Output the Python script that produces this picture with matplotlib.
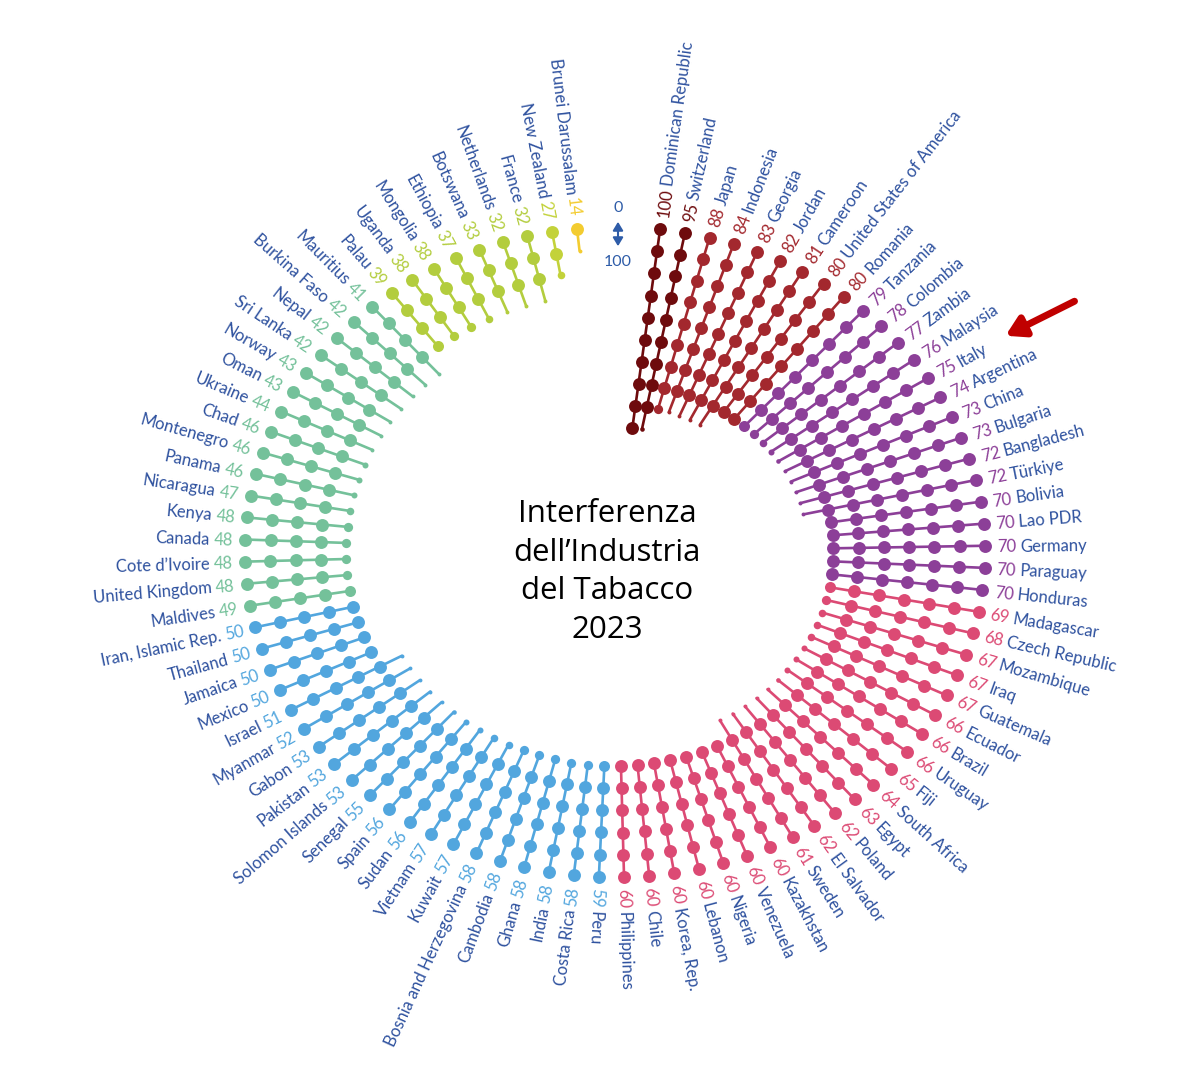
import numpy as np
import matplotlib.pyplot as plt
from matplotlib.textpath import TextPath
from matplotlib.font_manager import FontProperties

# Paesi in senso orario, a partire dall'alto
countries = [
    "Dominican Republic", "Switzerland", "Japan", "Indonesia", "Georgia", "Jordan",
    "Cameroon", "United States of America", "Romania", "Tanzania", "Colombia", "Zambia",
    "Malaysia", "Italy", "Argentina", "China", "Bulgaria", "Bangladesh", "Türkiye",
    "Bolivia", "Lao PDR", "Germany", "Paraguay", "Honduras", "Madagascar",
    "Czech Republic", "Mozambique", "Iraq", "Guatemala", "Ecuador", "Brazil", "Uruguay",
    "Fiji", "South Africa", "Egypt", "Poland", "El Salvador", "Sweden", "Kazakhstan",
    "Venezuela", "Nigeria", "Lebanon", "Korea, Rep.", "Chile", "Philippines", "Peru",
    "Costa Rica", "India", "Ghana", "Cambodia", "Bosnia and Herzegovina", "Kuwait",
    "Vietnam", "Sudan", "Spain", "Senegal", "Solomon Islands", "Pakistan", "Gabon",
    "Myanmar", "Israel", "Mexico", "Jamaica", "Thailand", "Iran, Islamic Rep.",
    "Maldives", "United Kingdom", "Cote d\u2019Ivoire", "Canada", "Kenya", "Nicaragua",
    "Panama", "Montenegro", "Chad", "Ukraine", "Oman", "Norway", "Sri Lanka", "Nepal",
    "Burkina Faso", "Mauritius", "Palau", "Uganda", "Mongolia", "Ethiopia", "Botswana",
    "Netherlands", "France", "New Zealand", "Brunei Darussalam",
]
scores = [
    100, 95, 88, 84, 83, 82, 81, 80, 80, 79, 78, 77, 76, 75, 74, 73, 73, 72, 72,
    70, 70, 70, 70, 70, 69, 68, 67, 67, 67, 66, 66, 66, 65, 64, 63, 62, 62, 61, 60,
    60, 60, 60, 60, 60, 60, 59, 58, 58, 58, 58, 58, 57, 57, 56, 56, 55, 53, 53, 53,
    52, 51, 50, 50, 50, 50, 49, 48, 48, 48, 48, 47, 46, 46, 46, 44, 43, 43, 42, 42,
    42, 41, 39, 38, 38, 37, 33, 32, 32, 27, 14,
]

# fasce di punteggio e colori
band_floor = [90, 80, 70, 60, 50, 40, 30, 20, 0]
band_color = ["#6e0b0d", "#a3282e", "#8c3f98", "#dc4a74", "#52a6de",
              "#74c19a", "#b3cd3e", "#c3d23a", "#f3cc30"]

name_color = "#2f529f"
label_font = "Lato"
label_size = 12

# geometria (pixel): ellisse leggermente schiacciata
cx, cy, rx, ry = 615, 552, 370, 325
theta0, dtheta = 7.0, 3.9
slot_step = 0.0683
dot_d = 9.3  # diametro in punti


def band_of(s):
    for f, c in zip(band_floor, band_color):
        if s >= f:
            return c
    return band_color[-1]


fp = FontProperties(family=label_font, size=label_size)


def text_width_px(s):
    return TextPath((0, 0), s, prop=fp).get_extents().width * 100 / 72


fig = plt.figure(figsize=(12, 10.89), dpi=100)
ax = fig.add_axes([0, 0, 1, 1])
ax.set_xlim(0, 1200)
ax.set_ylim(1089, 0)
ax.axis("off")

for i, (name, s) in enumerate(zip(countries, scores)):
    th = np.radians(theta0 + i * dtheta)
    col = band_of(s)
    n_full = s // 10
    frac = (s % 10) / 10
    n_slots = n_full + (1 if frac > 0 else 0)
    rho = 1 - slot_step * np.arange(n_slots)
    xs = cx + rx * rho * np.sin(th)
    ys = cy - ry * rho * np.cos(th)

    ax.plot(xs, ys, color=col, lw=1.9, solid_capstyle="round", zorder=1)
    ax.scatter(xs[:n_full], ys[:n_full], s=dot_d ** 2, color=col, lw=0, zorder=2)
    if frac > 0:
        d = dot_d * max(0.3, frac ** 1.5)
        ax.scatter(xs[-1:], ys[-1:], s=d ** 2, color=col, lw=0, zorder=2)

    # etichette
    ux, uy = rx * np.sin(th), -ry * np.cos(th)
    nrm = np.hypot(ux, uy)
    ux, uy = ux / nrm, uy / nrm
    phi = np.degrees(np.arctan2(ry * np.cos(th), rx * np.sin(th)))
    x0 = cx + rx * np.sin(th) + 12 * ux
    y0 = cy - ry * np.cos(th) + 12 * uy
    num = str(s)
    gap = text_width_px(num) + 5
    x1, y1 = x0 + gap * ux, y0 + gap * uy
    if i <= 45:
        rot, ha = phi, "left"
    else:
        rot, ha = phi + 180, "right"
    ax.text(x0, y0, num, rotation=rot, ha=ha, va="center_baseline",
            rotation_mode="anchor", color=col, fontsize=label_size, family=label_font)
    ax.text(x1, y1, name, rotation=rot, ha=ha, va="center_baseline",
            rotation_mode="anchor", color=name_color, fontsize=label_size, family=label_font)

# titolo centrale
ax.text(607, 572, "Interferenza\ndell\u2019Industria\ndel Tabacco\n2023",
        ha="center", va="center", fontsize=22.5, family="Open Sans",
        linespacing=1.38, color="black")

# legenda 0 - 100
leg_col = "#2e5ca8"
ax.text(618, 208, "0", ha="center", va="center", fontsize=11.5, color=leg_col, family=label_font)
ax.text(618, 262, "100", ha="center", va="center", fontsize=11.5, color=leg_col, family=label_font)
ax.annotate("", xy=(618, 249), xytext=(618, 219),
            arrowprops=dict(arrowstyle="<|-|>,head_length=0.5,head_width=0.3",
                            color=leg_col, lw=1.5))

# freccia rossa verso l'Italia
ax.annotate("", xy=(1003, 337), xytext=(1077, 300),
            arrowprops=dict(arrowstyle="-|>,head_length=1.1,head_width=0.65",
                            color="#c00000", lw=5))

fig.savefig("out.png", dpi=100, facecolor="white")
